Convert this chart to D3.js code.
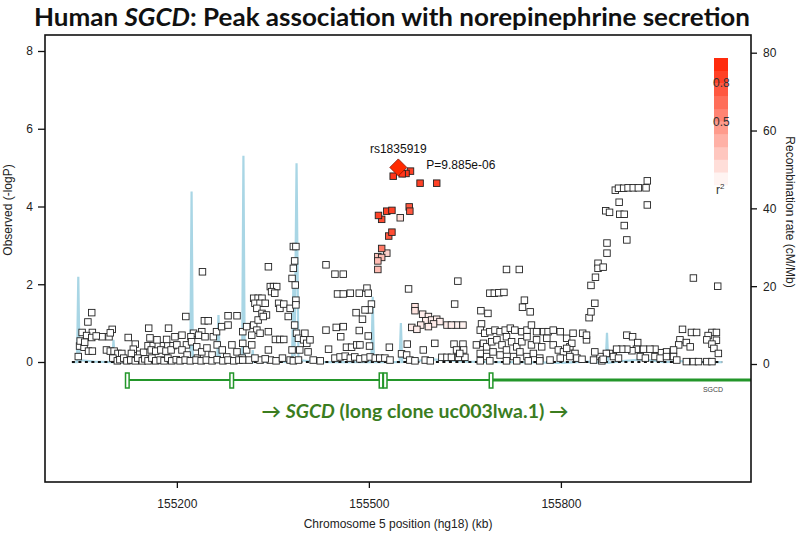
<!DOCTYPE html>
<html><head><meta charset="utf-8">
<script src="https://cdn.jsdelivr.net/npm/d3@7"></script>
<style>body{margin:0;background:#fff}svg{display:block}</style>
</head><body>
<svg id="c" width="800" height="533"></svg>
<script>
// ---------- data ----------
const xTicks = [155200, 155500, 155800];
const yTicks = [0, 2, 4, 6, 8];
const recTicks = [0, 20, 40, 60, 80];
const legendLabels = [0.8, 0.5];
const topSnp = {name: "rs1835919", pos: 155546, logP: 5.005, p: "9.885e-06"};
const geneName = "SGCD";
const geneExons = [155122.6, 155285.7, 155519, 155525.5, 155690.9];
const geneStart = 155121, geneThickFrom = 155691, geneEnd = 156097;
// recombination rate (cM/Mb) by position (kb)
const recomb = [
  [155036,0.5],[155044,0.5],[155046,22.4],[155048,1.0],[155070,0.6],[155099,0.5],[155101,6.2],[155103,0.5],
  [155150,0.4],[155200,0.5],[155221,0.5],[155223,44.3],[155225,0.8],[155263,0.5],[155265,12.6],[155267,0.5],
  [155302,0.5],[155304,53.5],[155306,1.0],[155317,0.5],[155318.5,3.6],[155320,0.5],[155350,0.6],
  [155380,0.5],[155382,20.3],[155384,2.0],[155387,51.6],[155390,1.0],[155420,0.5],[155470,0.5],
  [155504,0.5],[155506,17.3],[155508,0.5],[155548,0.5],[155550,10.5],[155552,0.5],[155600,1.2],[155650,0.6],
  [155700,0.5],[155760,0.4],[155797,0.3],[155799,1.5],[155801,0.3],[155840,0.6],[155870,0.3],[155872,8.0],
  [155874,0.3],[155900,0.8],[155930,1.2],[155960,0.5],[156000,0.8],[156030,0.4],[156052,0.5]
];
// SNPs: [position kb, -log10 P, r2]
const snpsLeft = [
  [155067,1.27],[155061,1.03],[155052,0.76],[155068,0.76],[155059,0.68],[155067,0.63],[155083,0.65],[155094,0.65],[155099,0.84],[155096,0.75],
  [155048,0.41],[155055,0.38],[155062,0.28],[155068,0.28],[155046,0.14],[155090,0.31],[155096,0.28],[155102,0.28],[155108,0.22],[155114,0.22],
  [155124,0.63],[155135,0.46],[155132,0.33],[155129,0.22],[155074,0.67],[155049,0.54],[155056,0.51],[155142,0.20],[155148,0.25],
  [155100,0.10],[155107,0.03],[155111,0.06],[155117,0.10],[155122,0.03],[155128,0.05],[155135,0.03],[155139,0.10],[155146,0.03],[155150,0.08],
  [155155,0.03],[155161,0.10],[155167,0.03],[155174,0.05],[155180,0.03],[155186,0.10],[155192,0.03],[155199,0.06],
  [155155,0.42],[155163,0.42],[155171,0.42],[155179,0.42],[155186,0.42],[155194,0.42],[155160,0.31],[155167,0.28],[155175,0.31],[155183,0.28],[155191,0.31],
  [155156,0.87],[155187,0.87],[155214,1.17],[155240,2.32],[155243,1.06],[155249,1.06],[155239,0.78],[155226,0.74],[155234,0.69],[155222,0.65],
  [155244,0.65],[155257,0.65],[155262,0.78],[155270,0.91],[155280,1.19],[155294,1.19],[155280,0.95],[155215,0.44],[155223,0.52],[155231,0.39],
  [155158,0.62],[155169,0.57],[155184,0.58],[155197,0.65],[155208,0.69],
  [155200,0.44],[155208,0.31],[155216,0.18],[155232,0.10],[155239,0.26],[155247,0.36],[155255,0.18],[155263,0.44],[155271,0.31],[155278,0.13],
  [155286,0.44],[155294,0.26],[155302,0.10],
  [155205,0.03],[155213,0.05],[155221,0.03],[155230,0.05],[155238,0.03],[155246,0.05],[155255,0.03],[155263,0.06],[155272,0.03],[155280,0.05],[155289,0.03],[155297,0.05]
];
const snpsMid = [
  [155303,0.78],[155309,0.91],[155320,1.64],[155327,1.64],[155333,1.64],[155322,1.51],[155330,1.51],[155338,1.51],[155325,1.38],[155333,1.25],
  [155340,1.21],[155343,2.45],[155346,1.94],[155351,1.94],[155356,1.94],[155348,1.81],[155353,1.77],[155359,1.51],[155361,1.38],[155367,1.49],
  [155377,1.38],[155374,1.17],[155382,2.97],[155386,2.97],[155384,2.60],[155382,2.41],[155380,2.15],[155385,1.98],[155386,1.59],[155386,1.47],
  [155384,0.95],[155387,0.74],[155400,0.74],[155390,0.61],[155398,0.57],[155403,0.48],[155405,0.26],[155380,0.31],[155392,0.31],[155320,0.95],
  [155327,1.08],[155335,1.17],[155325,0.82],[155317,0.69],[155330,0.74],[155343,0.78],[155343,0.31],[155354,0.58],[155361,0.58],[155367,0.58],
  [155303,0.48],[155309,0.31],[155317,0.44],
  [155303,0.05],[155313,0.05],[155330,0.05],[155346,0.05],[155377,0.05],[155382,0.03],[155390,0.05],[155322,0.10],[155338,0.08],[155355,0.03],[155365,0.10],
  [155433,2.50],[155447,2.26],[155460,2.26],[155497,1.90],[155451,1.75],[155460,1.75],[155471,1.77],[155485,1.77],[155499,1.77],[155504,1.49],
  [155501,1.34],[155494,1.34],[155480,1.27],[155490,1.10],[155433,0.82],[155449,0.89],[155460,0.91],[155456,0.65],[155485,0.81],[155499,0.67],
  [155501,0.41],[155532,0.38],[155437,0.33],[155465,0.38],[155473,0.38],[155481,0.44],[155486,0.44],[155408,0.57],
  [155447,0.10],[155455,0.13],[155463,0.15],[155471,0.10],[155478,0.13],[155486,0.08],[155494,0.10],[155502,0.13],[155510,0.10],[155517,0.10],
  [155525,0.10],[155533,0.05],[155424,0.03],[155413,0.05]
];
const snpsPeak = [
  [155538,4.78,0.9],[155558,4.85,0.9],[155565,4.91,0.85],[155552,4.84,0.9],[155580,4.60,0.85],[155606,4.60,0.85],[155563,3.99,0.75],[155564,3.88,0.75],
  [155528,3.88,0.85],[155536,3.90,0.85],[155515,3.77,0.85],[155520,3.67,0.8],[155549,3.71,0.15],[155536,3.34,0.8],[155531,3.24,0.75],[155520,2.92,0.6],
  [155528,2.80,0.2],[155514,2.71,0.25],[155520,2.69,0.3],[155514,2.60,0.3],[155514,2.38,0.3],
  [155562,1.88],[155572,1.42,0.12],[155572,1.32,0.12],[155584,1.23,0.08],[155593,1.17,0.08],[155589,1.06,0.08],[155598,1.08,0.08],[155606,1.10,0.08],
  [155611,1.04,0.08],[155622,0.95,0.08],[155629,0.95,0.08],[155637,0.95,0.06],[155647,0.95,0.06],[155601,0.98,0.08],[155581,0.95,0.08],[155593,0.91,0.08],
  [155567,0.89,0.08],[155575,0.84,0.08],[155560,0.46],[155551,0.21],[155559,0.18],[155564,0.05],[155585,0.31],[155603,0.48],[155634,1.49],[155639,2.08],
  [155633,0.46],[155647,0.46],[155637,0.31],[155648,0.31],[155614,0.12],[155622,0.12],[155629,0.12],[155640,0.12],[155650,0.12],[155642,0.22],
  [155572,0.03],[155588,0.05],[155596,0.03]
];
const snpsRight = [
  [155715,2.38],[155735,2.38],[155689,1.77],[155696,1.77],[155703,1.78],[155711,1.79],[155675,1.32],[155686,1.25],[155743,1.59],[155740,1.41],
  [155752,1.29],[155676,0.98],[155674,0.82],[155681,0.74],[155689,0.78],[155697,0.82],[155705,0.78],[155713,0.82],[155721,0.87],[155728,0.82],
  [155739,0.78],[155747,0.82],[155754,0.95],[155762,0.78],[155773,0.78],[155780,0.78],[155788,0.82],[155799,0.78],[155809,0.61],[155819,0.74],
  [155668,0.44],[155679,0.48],[155684,0.39],[155692,0.52],[155700,0.57],[155708,0.44],[155715,0.65],[155723,0.52],[155731,0.39],[155739,0.52],
  [155747,0.65],[155754,0.44],[155762,0.57],[155770,0.39],[155778,0.61],[155788,0.44],[155796,0.31],[155804,0.26],[155814,0.39],[155822,0.22],
  [155674,0.22],[155684,0.14],[155694,0.26],[155705,0.18],[155715,0.31],[155726,0.14],[155736,0.26],[155747,0.14],[155757,0.22],[155767,0.10],
  [155783,0.05],[155799,0.10],[155814,0.14],[155674,0.03],[155689,0.03],[155715,0.03],[155731,0.03],[155749,0.03],[155767,0.03],
  [155844,1.14],[155847,1.29],[155853,1.51],[155847,1.97],[155854,2.18],[155858,2.54],[155858,2.41],[155866,2.44],[155872,2.80],[155872,3.06],
  [155870,3.89],[155876,3.85],[155885,4.42],[155890,4.47],[155898,4.47],[155905,4.48],[155913,4.48],[155921,4.48],[155933,4.48],[155935,4.66],
  [155891,4.11],[155935,4.04],[155892,3.80],[155899,3.80],[155899,3.51],[155903,3.14],
  [155990,0.84],[156004,0.76],[156012,0.76],[156036,0.76],[156043,0.76],[156030,0.68],[156043,0.56],[156028,0.57],[156036,0.46],[156039,0.35],
  [156046,0.22],[155986,0.57],[155996,0.50],[156002,0.39],[155984,0.44],[155976,0.31],[155965,0.26],[155955,0.24],[155947,0.33],[155939,0.33],
  [155929,0.33],[155918,0.33],[155911,0.29],[155903,0.33],[155895,0.33],[155887,0.33],[155876,0.22],[155871,0.22],[155861,0.14],[155853,0.26],
  [155840,0.57],[155834,0.74],[155840,0.69],[155817,0.48],[155809,0.35],[155825,0.10],[155833,0.07],[155851,0.05],[155864,0.03],[155866,0.07],
  [155903,0.69],[155912,0.65],[155920,0.50],[156007,2.16],[156045,1.95],[155996,0.01],[156007,0.01],[156015,0.01],[156028,0.01],[156036,0.01],
  [155947,0.14],[155955,0.10],[155965,0.14],[155976,0.14],[155981,0.05],[155924,0.14],[155932,0.10],[155882,0.14],[155890,0.10]
];

// ---------- drawing ----------
const svg = d3.select("#c");
const L = 45, R = 751, T = 35, B = 482;
const x = d3.scaleLinear().domain([154994, 156097]).range([L, R]);
const y = d3.scaleLinear().domain([0, 8]).range([362, 51]);
const yr = d3.scaleLinear().domain([0, 80]).range([364, 52.7]);
const col = d3.scaleLinear().domain([0, 1]).range(["#ffffff", "#ff2000"]);
const axisFont = "'Liberation Sans', Arial, Helvetica, sans-serif";

svg.append("rect").attr("width", 800).attr("height", 533).attr("fill", "#fff");

// title
const title = svg.append("text").attr("x", 392).attr("y", 26).attr("text-anchor", "middle")
  .attr("textLength", 716).attr("lengthAdjust", "spacingAndGlyphs")
  .style("font-family", "Lato, 'Open Sans', sans-serif").style("font-weight", "bold").style("font-size", "24px").attr("fill", "#111");
title.append("tspan").text("Human ");
title.append("tspan").style("font-style", "italic").text("SGCD");
title.append("tspan").text(": Peak association with norepinephrine secretion");

// recombination line
svg.append("path").datum(recomb)
  .attr("d", d3.line().x(d => x(d[0])).y(d => yr(d[1])))
  .attr("fill", "none").attr("stroke", "#a9d6e5").attr("stroke-width", 2.2);

// baseline dashed
svg.append("line").attr("x1", x(155036)).attr("x2", x(156052)).attr("y1", y(0)).attr("y2", y(0))
  .attr("stroke", "#111").attr("stroke-width", 2).attr("stroke-dasharray", "3,3.5");

// SNP squares
const allSnps = [].concat(snpsLeft, snpsMid, snpsRight, snpsPeak).sort((a, b) => (a[2] || 0) - (b[2] || 0));
const S = 6.5;
svg.append("g").selectAll("rect").data(allSnps).join("rect")
  .attr("x", d => x(d[0]) - S / 2).attr("y", d => y(d[1]) - S / 2)
  .attr("width", S).attr("height", S)
  .attr("fill", d => col(d[2] || 0)).attr("stroke", "#222").attr("stroke-width", 0.9);

// top SNP diamond
const dx = x(topSnp.pos), dy = y(topSnp.logP), h = 8.5;
svg.append("path").attr("d", `M${dx},${dy - h}L${dx + h},${dy}L${dx},${dy + h}L${dx - h},${dy}Z`)
  .attr("fill", "#ff2a00").attr("stroke", "#8a1000").attr("stroke-width", 0.8);
svg.append("text").attr("x", dx).attr("y", dy - 14).attr("text-anchor", "middle")
  .style("font-family", axisFont).style("font-size", "12px").attr("fill", "#111").text(topSnp.name);
svg.append("text").attr("x", dx + 28).attr("y", dy + 2).style("font-family", axisFont).style("font-size", "12px")
  .attr("fill", "#111").text("P=" + topSnp.p);

// gene track
const gY = 380;
svg.append("line").attr("x1", x(geneStart)).attr("x2", x(geneThickFrom)).attr("y1", gY).attr("y2", gY)
  .attr("stroke", "#23962a").attr("stroke-width", 2);
svg.append("line").attr("x1", x(geneThickFrom)).attr("x2", Math.min(x(geneEnd), R + 2)).attr("y1", gY).attr("y2", gY)
  .attr("stroke", "#23962a").attr("stroke-width", 3);
svg.append("g").selectAll("rect").data(geneExons).join("rect")
  .attr("x", d => x(d) - 1.8).attr("y", gY - 7).attr("width", 3.6).attr("height", 15)
  .attr("fill", "#fff").attr("stroke", "#23962a").attr("stroke-width", 1.5);
svg.append("text").attr("x", 713).attr("y", 392).attr("text-anchor", "middle")
  .style("font-family", axisFont).style("font-size", "7px").attr("fill", "#444").text(geneName);
const gl = svg.append("text").attr("x", 415).attr("y", 418).attr("text-anchor", "middle")
  .attr("textLength", 307).attr("lengthAdjust", "spacingAndGlyphs")
  .style("font-family", "Lato, 'Open Sans', sans-serif").style("font-weight", "bold").style("font-size", "19px").attr("fill", "#3b7d1f");
gl.append("tspan").text("\u2192 ");
gl.append("tspan").style("font-style", "italic").text(geneName);
gl.append("tspan").text(" (long clone uc003lwa.1) \u2192");

// frame
svg.append("rect").attr("x", L).attr("y", T).attr("width", R - L).attr("height", B - T)
  .attr("fill", "none").attr("stroke", "#111").attr("stroke-width", 1.6);

// axes
function styleAxis(g) {
  g.select(".domain").remove();
  g.selectAll("line").attr("stroke", "#111").attr("stroke-width", 1.3);
  g.selectAll("text").style("font-family", axisFont).style("font-size", "12px").attr("fill", "#222");
}
svg.append("g").attr("transform", `translate(${L},0)`)
  .call(d3.axisLeft(y).tickValues(yTicks).tickSize(7).tickPadding(5)).call(styleAxis);
svg.append("g").attr("transform", `translate(${R},0)`)
  .call(d3.axisRight(yr).tickValues(recTicks).tickSize(6).tickPadding(6)).call(styleAxis);
svg.append("g").attr("transform", `translate(0,${B})`)
  .call(d3.axisBottom(x).tickValues(xTicks).tickFormat(d3.format("d")).tickSize(6).tickPadding(11)).call(styleAxis);

svg.append("text").attr("transform", "translate(12,210) rotate(-90)").attr("text-anchor", "middle")
  .style("font-family", axisFont).style("font-size", "12px").attr("fill", "#222").text("Observed (-logP)");
svg.append("text").attr("transform", "translate(786,212) rotate(90)").attr("text-anchor", "middle")
  .style("font-family", axisFont).style("font-size", "12px").attr("fill", "#222").text("Recombination rate (cM/Mb)");
svg.append("text").attr("x", 398).attr("y", 528).attr("text-anchor", "middle")
  .style("font-family", axisFont).style("font-size", "12px").attr("fill", "#222").text("Chromosome 5 position (hg18) (kb)");

// r2 legend
const lg = d3.scaleLinear().domain([0, 1]).range([185, 58]);
const bins = d3.range(10).map(i => i / 10);
svg.append("g").selectAll("rect").data(bins).join("rect")
  .attr("x", 714).attr("width", 14).attr("y", d => lg(d + 0.1)).attr("height", d => lg(d) - lg(d + 0.1) + 0.3)
  .attr("fill", d => col(d + 0.05));
svg.append("g").selectAll("text").data(legendLabels).join("text")
  .attr("x", 713).attr("y", d => lg(d) + 4).style("font-family", axisFont).style("font-size", "12px")
  .attr("fill", "#333").text(d => d.toFixed(1));
const r2t = svg.append("text").attr("x", 716).attr("y", 194).style("font-family", axisFont).style("font-size", "12px").attr("fill", "#333");
r2t.append("tspan").text("r");
r2t.append("tspan").attr("dy", -5).style("font-size", "8px").text("2");
</script>
</body></html>
